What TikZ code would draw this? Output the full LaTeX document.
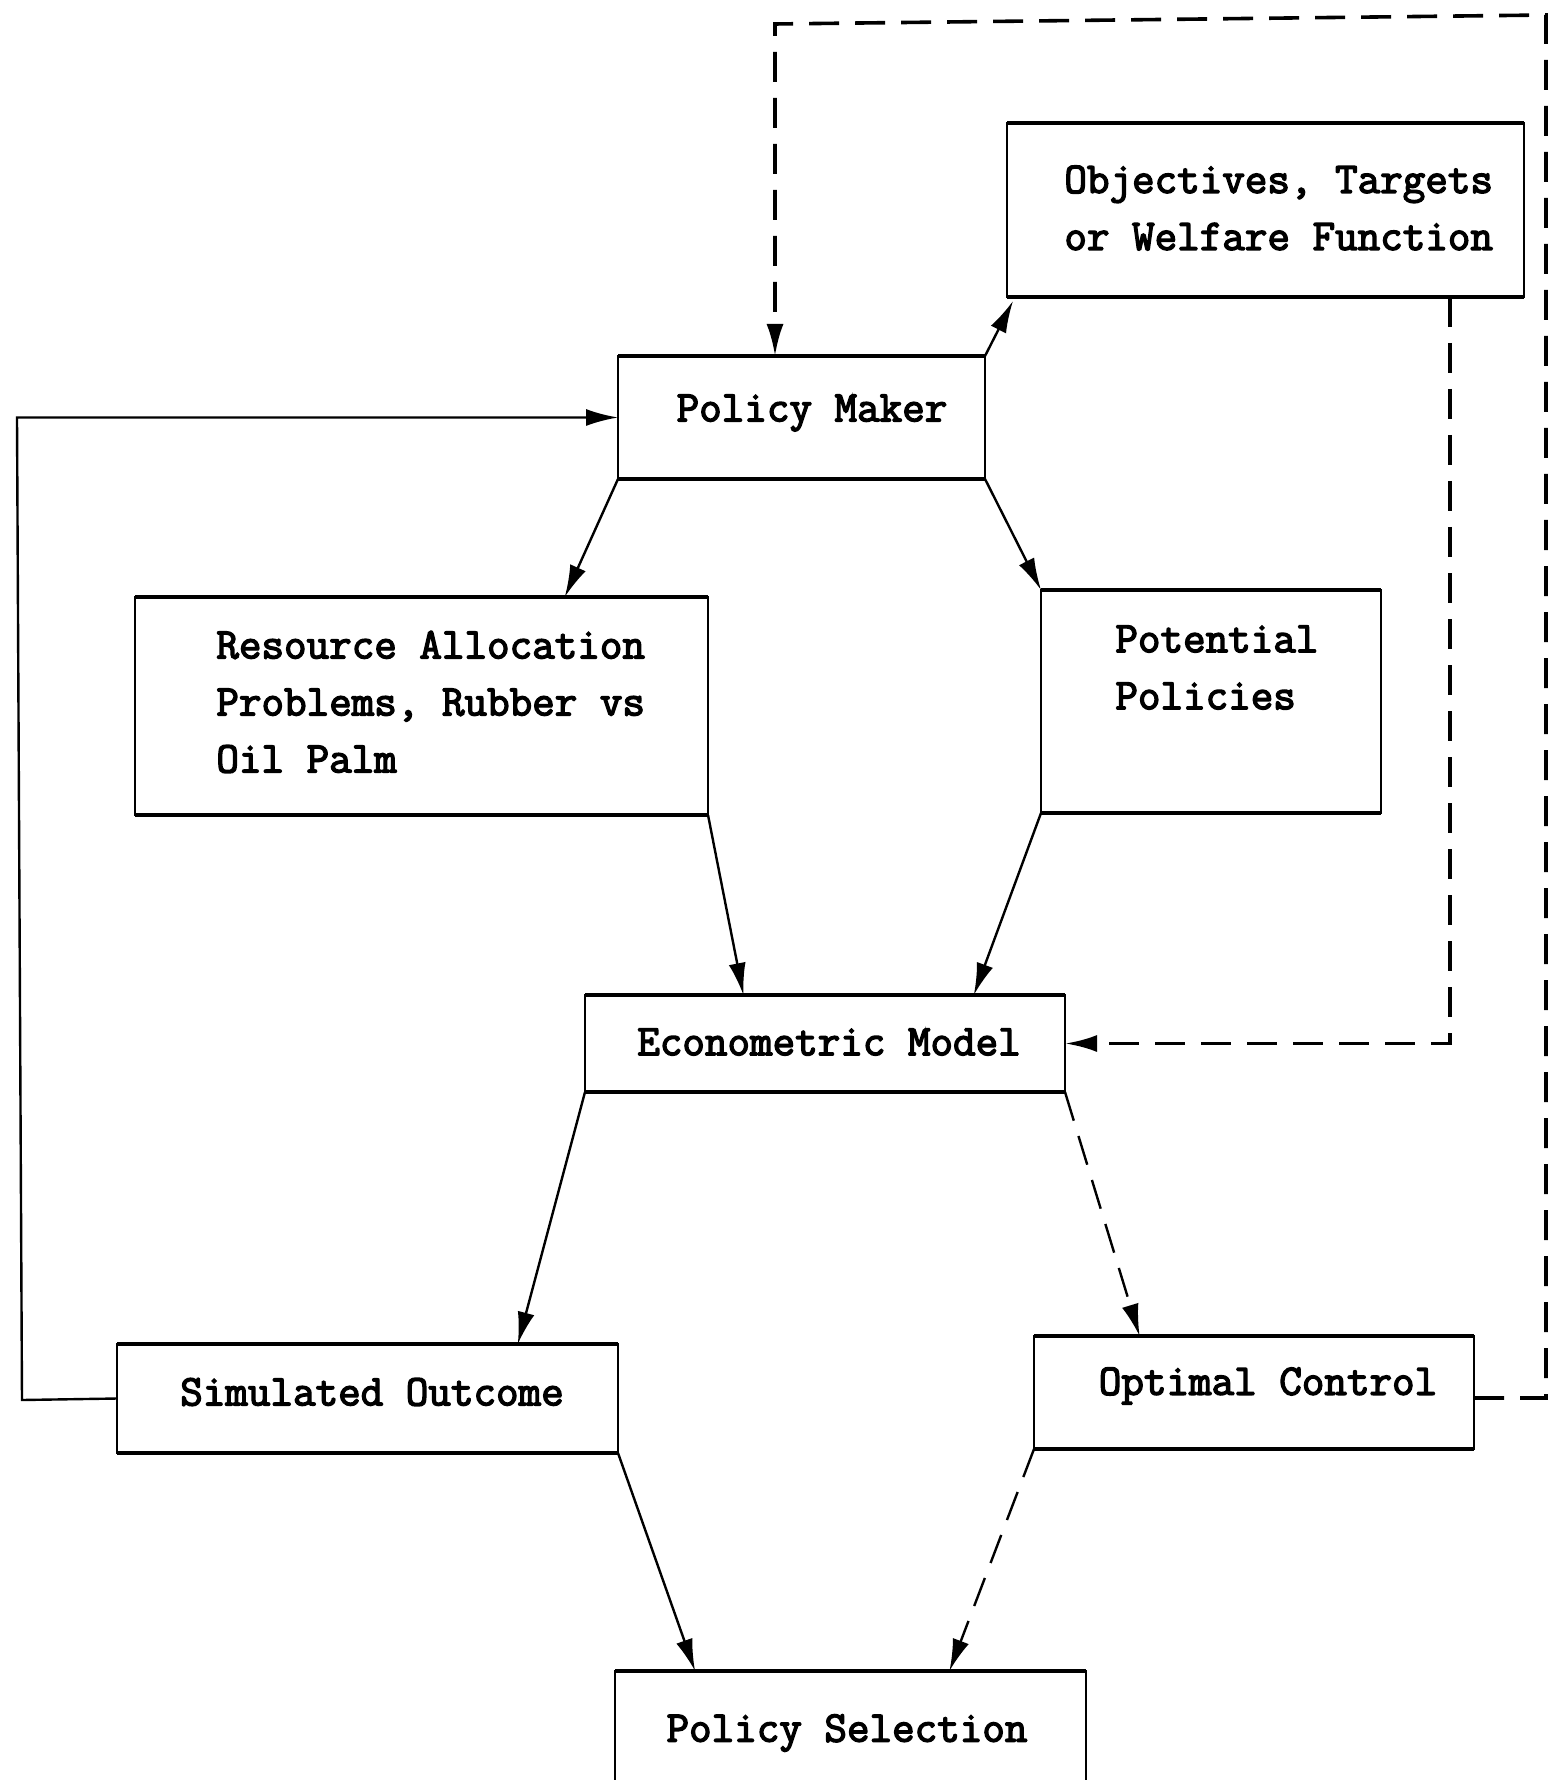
\documentclass[tikz,border=0pt]{standalone}
\usepackage{fontspec}
\newfontfamily\diagfont[FakeBold=3.2]{Latin Modern Mono}
\usetikzlibrary{arrows.meta,calc}
\begin{document}
\begin{tikzpicture}[x=0.5pt,y=-0.5pt,
  box/.style={draw,line width=1pt,inner sep=0pt,outer sep=0pt},
  txt/.style={font=\diagfont\fontsize{21.9}{28.5}\selectfont,inner sep=0pt,align=left},
  conn/.style={line width=1.2pt,-{Latex[length=16pt,width=8.5pt]}},
  dsh/.style={dash pattern=on 15pt off 8pt},
  thickdsh/.style={dsh,line width=1.8pt}]
\clip (0,0) rectangle (1552,1780);
\fill[white] (0,0) rectangle (1552,1780);
% boxes
\node[box,minimum width=258.5pt,minimum height=87pt] (obj) at (1265.5,210) {};
\node[box,minimum width=183.5pt,minimum height=61.5pt] (pm) at (801.5,417.5) {};
\node[box,minimum width=286.5pt,minimum height=109pt] (res) at (421.5,706) {};
\node[box,minimum width=170pt,minimum height=111.5pt] (pot) at (1211,701.5) {};
\node[box,minimum width=240pt,minimum height=48.5pt] (eco) at (825,1043.5) {};
\node[box,minimum width=250.5pt,minimum height=54.5pt] (sim) at (367.5,1398.5) {};
\node[box,minimum width=220pt,minimum height=56.5pt] (optc) at (1254,1392.5) {};
\node[box,minimum width=235.5pt,minimum height=65pt] (sel) at (850.5,1736) {};
\foreach \n in {obj,pm,res,pot,eco,sim,optc,sel}{
  \draw[line width=2.4pt] (\n.north west) -- (\n.north east);
  \draw[line width=2.4pt] (\n.south west) -- (\n.south east);
}
% texts
\node[txt,anchor=west] (obj-t) at (1064,208) {Objectives, Targets\\or Welfare Function};
\node[txt] (pm-t) at (812,413) {Policy Maker};
\node[txt,anchor=west] (res-t) at (216,702) {Resource Allocation\\Problems, Rubber vs\\Oil Palm};
\node[txt,anchor=west] (pot-t) at (1115,667.5) {Potential\\Policies};
\node[txt] (eco-t) at (829,1042) {Econometric Model};
\node[txt] (sim-t) at (372,1392) {Simulated Outcome};
\node[txt] (optc-t) at (1268,1386) {Optimal Control};
\node[txt] (sel-t) at (847,1733) {Policy Selection};
% connectors
\draw[conn,dsh] (pm.north east) -- ([xshift=3pt,yshift=-2pt]obj.south west);
\draw[conn] (pm.south west) -- ($(res.north west)!0.75!(res.north east)$);
\draw[conn] (pm.south east) -- (pot.north west);
\draw[conn] (res.south east) -- ($(eco.north west)!0.33!(eco.north east)$);
\draw[conn] (pot.south west) -- ($(eco.north west)!0.81!(eco.north east)$);
\draw[conn] (eco.south west) -- ($(sim.north west)!0.80!(sim.north east)$);
\draw[conn,dsh] (eco.south east) -- ($(optc.north west)!0.24!(optc.north east)$);
\draw[conn] (sim.south east) -- ($(sel.north west)!0.17!(sel.north east)$);
\draw[conn,dsh] (optc.south west) -- ($(sel.north west)!0.71!(sel.north east)$);
% left feedback loop
\coordinate (lb) at (22,1400);
\coordinate (lt) at (17,417.5);
\draw[conn] (sim.west) -- (lb) -- (lt) -- (pm.west);
% top dashed loop
\coordinate (tl) at (775,24);
\coordinate (tr) at (1546,15);
\coordinate (br) at (1546,1398);
\draw[conn,thickdsh] (optc.east |- br) -- (br) -- (tr) -- (tl) -- (tl |- pm.north);
% objectives to econometric model
\coordinate (oc) at (1450,1043.5);
\draw[conn,thickdsh] (oc |- obj.south) -- (oc) -- (eco.east);
\end{tikzpicture}
\end{document}
